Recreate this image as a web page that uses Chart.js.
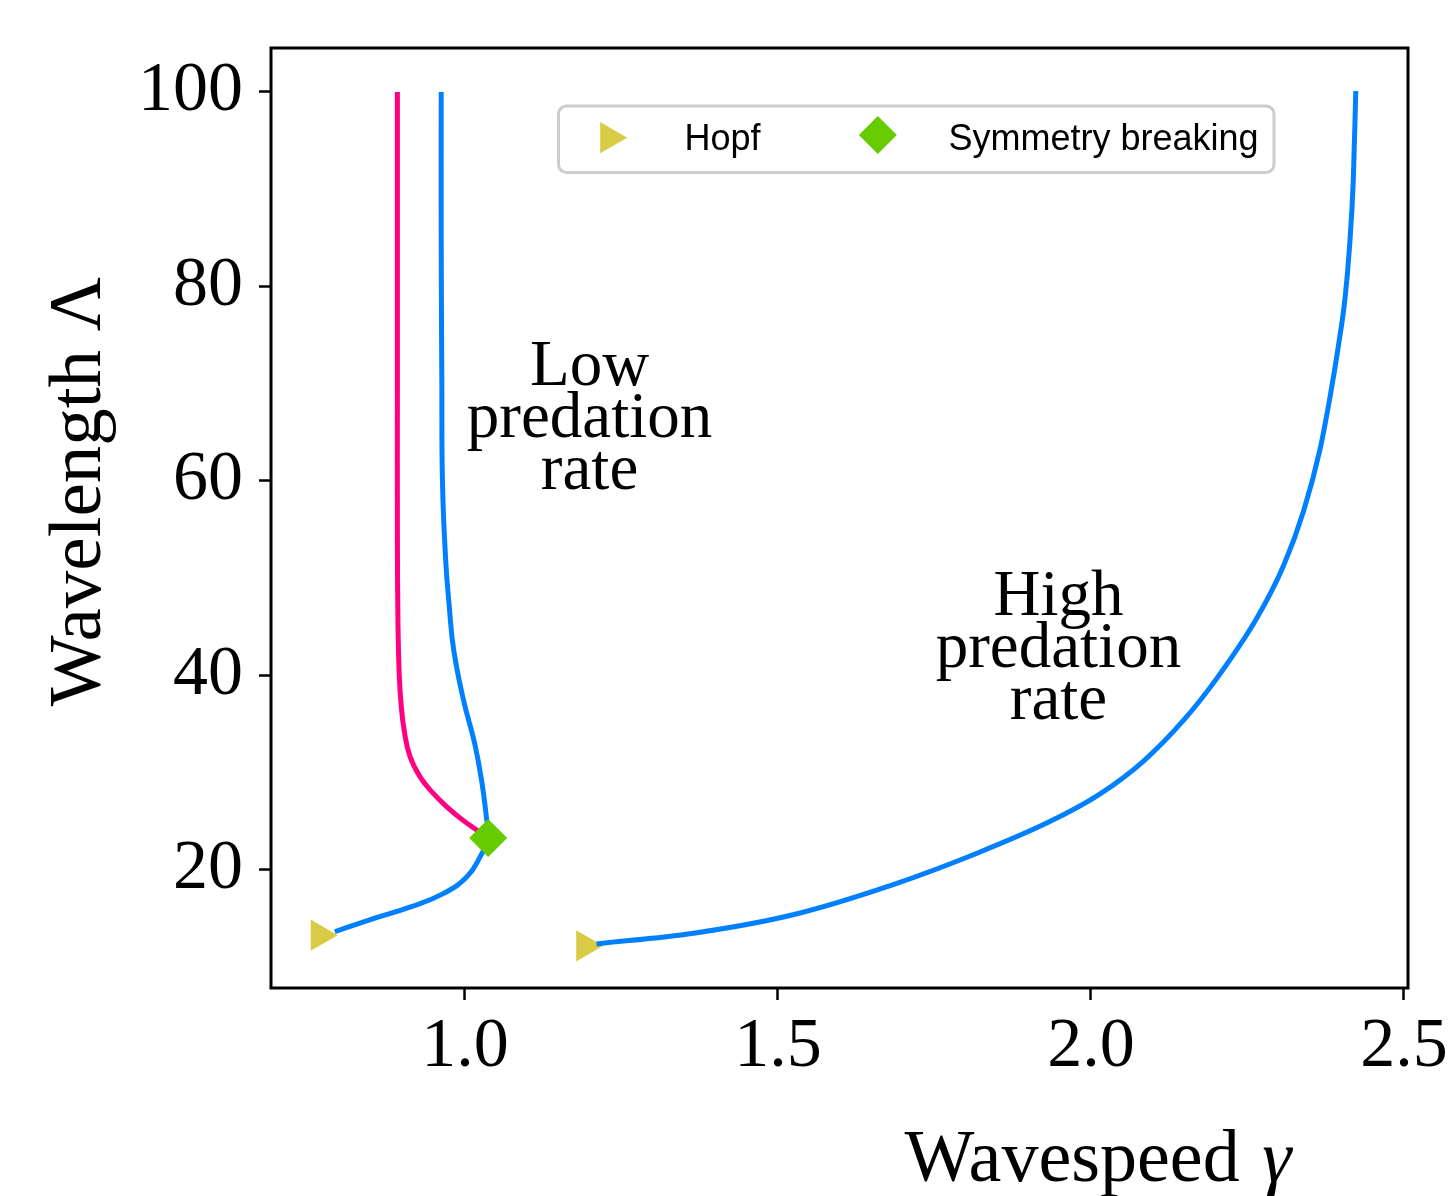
<!DOCTYPE html>
<html lang="en">
<head>
<meta charset="UTF-8">
<title>Wavelength vs wavespeed</title>
<script src="https://cdn.jsdelivr.net/npm/chart.js"></script>
<style>
  html, body { margin: 0; padding: 0; background: #fff; }
  #wrap { width: 1455px; height: 1196px; }
</style>
</head>
<body>
<div id="wrap"><canvas id="grafico" width="1455" height="1196"></canvas></div>
<script>
// symmetric branch that leaves the low-predation curve at the symmetry-breaking point
const pinkGamma  = [0.892, 0.892, 0.892, 0.892, 0.893, 0.895, 0.898, 0.903, 0.912, 0.928, 0.949, 0.971, 0.997, 1.019, 1.037];
const pinkLambda = [100, 85, 70, 55, 45, 40, 37, 34.3, 31.7, 29.6, 27.9, 26.5, 25.1, 24.1, 23.3];

// low predation rate branch (top down to the Hopf point)
const lowGamma  = [0.962, 0.962, 0.963, 0.964, 0.969, 0.975, 0.982, 0.9975, 1.0155, 1.027, 1.034, 1.037,
                   1.024, 1.003, 0.966, 0.913, 0.849, 0.792];
const lowLambda = [100, 85, 70, 60, 52, 47, 42.6, 37.5, 33.0, 29.0, 25.5, 23.3,
                   21.35, 19.3, 17.6, 16.2, 14.9, 13.65];

// high predation rate branch (Hopf point up to the top)
const highGamma  = [1.210, 1.365, 1.524, 1.684, 1.817, 1.935, 2.014, 2.084, 2.148, 2.201, 2.265, 2.307, 2.340, 2.366, 2.382, 2.395, 2.406, 2.413, 2.419, 2.423];
const highLambda = [12.4, 13.5, 15.4, 18.5, 21.7, 25.0, 27.8, 31.2, 35.4, 39.7, 45.9, 51.2, 57.0, 63.3, 68.7, 73.8, 78.9, 84.1, 90.9, 100.1];

// bifurcation points
const hopfGamma  = [0.768, 1.192];
const hopfLambda = [13.3, 12.2];
const symGamma  = [1.037];
const symLambda = [23.3];

const xTicks = [1.0, 1.5, 2.0, 2.5];
const yTicks = [20, 40, 60, 80, 100];

const lowText  = ['Low', 'predation', 'rate'];
const highText = ['High', 'predation', 'rate'];
const legendOrder = ['Hopf', 'Symmetry breaking'];

const BLUE = '#0080ff';
const PINK = '#ff0080';
const YELLOW = '#dacb47';
const GREEN = '#66cc00';

function pts(xs, ys) {
    return xs.map((v, i) => ({ x: v, y: ys[i] }));
}

// text labels sit at data coordinates (first line baseline)
const notes = [
    { gamma: 1.199, lambda: 69.87, lines: lowText },
    { gamma: 1.948, lambda: 46.22, lines: highText }
];

function marker(ctx, ds, x, y) {
    ctx.fillStyle = ds.backgroundColor;
    if (Chart.helpers && Chart.helpers.drawPoint) {
        Chart.helpers.drawPoint(ctx, {
            pointStyle: ds.pointStyle, rotation: ds.rotation || 0,
            radius: ds.pointRadius, borderWidth: 0
        }, x, y);
    }
}

const decor = {
    id: 'decor',
    afterDraw(chart) {
        const { ctx, chartArea: a, scales } = chart;
        ctx.save();

        // box round the plot
        ctx.strokeStyle = '#000';
        ctx.lineWidth = 3;
        ctx.strokeRect(a.left, a.top, a.right - a.left, a.bottom - a.top);

        // region labels
        ctx.fillStyle = '#000';
        ctx.font = '65px "Liberation Serif"';
        ctx.textAlign = 'center';
        ctx.textBaseline = 'alphabetic';
        notes.forEach(n => {
            const px = scales.x.getPixelForValue(n.gamma);
            const py = scales.y.getPixelForValue(n.lambda);
            n.lines.forEach((t, i) => ctx.fillText(t, px, py + i * 52));
        });

        // y title
        ctx.save();
        ctx.translate(100, 491.5);
        ctx.rotate(-Math.PI / 2);
        ctx.font = '75px "Liberation Serif"';
        ctx.textAlign = 'center';
        ctx.fillText('Wavelength \u039B', 0, 0);
        ctx.restore();

        // x title, gamma in italics
        ctx.font = '74px "Liberation Serif"';
        const w1 = ctx.measureText('Wavespeed ').width;
        ctx.font = 'italic 74px "Liberation Serif"';
        const w2 = ctx.measureText('\u03B3').width;
        const x0 = 1098 - (w1 + w2 + 4) / 2;
        ctx.textAlign = 'left';
        ctx.font = '74px "Liberation Serif"';
        ctx.fillText('Wavespeed ', x0, 1181);
        ctx.font = 'italic 74px "Liberation Serif"';
        ctx.fillText('\u03B3', x0 + w1 + 4, 1181);

        // legend
        const bx = 558.5, by = 106, bw = 715.5, bh = 66.5, r = 8;
        ctx.beginPath();
        ctx.moveTo(bx + r, by);
        ctx.arcTo(bx + bw, by, bx + bw, by + bh, r);
        ctx.arcTo(bx + bw, by + bh, bx, by + bh, r);
        ctx.arcTo(bx, by + bh, bx, by, r);
        ctx.arcTo(bx, by, bx + bw, by, r);
        ctx.closePath();
        ctx.fillStyle = 'rgba(255,255,255,0.8)';
        ctx.fill();
        ctx.strokeStyle = '#cccccc';
        ctx.lineWidth = 3;
        ctx.stroke();

        const slots = [
            { mx: 609.2, my: 137.7, tx: 684.5 },
            { mx: 877.8, my: 135, tx: 948.5 }
        ];
        const items = legendOrder.map(l => chart.data.datasets.find(d => d.label === l));
        ctx.font = '36px "Liberation Sans"';
        items.forEach((ds, i) => {
            const s = slots[i];
            marker(ctx, ds, s.mx, s.my);
            ctx.fillStyle = '#000';
            ctx.textAlign = 'left';
            ctx.fillText(ds.label, s.tx, 150);
        });

        ctx.restore();
    }
};

new Chart(document.getElementById('grafico'), {
    type: 'scatter',
    data: {
        datasets: [
            {
                label: 'Symmetry breaking',
                data: pts(symGamma, symLambda),
                showLine: false, pointStyle: 'rectRot', pointRadius: 19,
                backgroundColor: GREEN, borderColor: GREEN, pointBorderWidth: 0,
                order: 0
            },
            {
                label: 'pink', data: pts(pinkGamma, pinkLambda),
                showLine: true, borderColor: PINK, borderWidth: 5,
                pointRadius: 0, tension: 0.45, order: 1
            },
            {
                label: 'low', data: pts(lowGamma, lowLambda),
                showLine: true, borderColor: BLUE, borderWidth: 5,
                pointRadius: 0, tension: 0.45, order: 1
            },
            {
                label: 'high', data: pts(highGamma, highLambda),
                showLine: true, borderColor: BLUE, borderWidth: 5,
                pointRadius: 0, cubicInterpolationMode: 'monotone', order: 1
            },
            {
                label: 'Hopf',
                data: pts(hopfGamma, hopfLambda),
                showLine: false, pointStyle: 'triangle', rotation: 90, pointRadius: 18,
                backgroundColor: YELLOW, borderColor: YELLOW, pointBorderWidth: 0,
                order: 2
            }
        ]
    },
    options: {
        responsive: false,
        animation: false,
        devicePixelRatio: 1,
        layout: { padding: { top: 48, right: 47, left: 0, bottom: 0 } },
        plugins: { legend: { display: false }, tooltip: { enabled: false } },
        scales: {
            x: {
                type: 'linear', min: 0.6901, max: 2.5064,
                afterBuildTicks: s => { s.ticks = xTicks.map(v => ({ value: v })); },
                afterFit: s => { s.height = 208; },
                grid: { drawOnChartArea: false, tickLength: 12, tickWidth: 2.5, tickColor: '#000' },
                border: { display: false },
                ticks: {
                    padding: 6, color: '#000', maxRotation: 0, autoSkip: false,
                    font: { family: 'Liberation Serif', size: 70 },
                    callback: v => Number(v).toFixed(1)
                }
            },
            y: {
                type: 'linear', min: 7.866, max: 104.52,
                afterBuildTicks: s => { s.ticks = yTicks.map(v => ({ value: v })); },
                afterFit: s => { s.width = 271; },
                grid: { drawOnChartArea: false, tickLength: 12, tickWidth: 2.5, tickColor: '#000' },
                border: { display: false },
                ticks: {
                    padding: 16, color: '#000', autoSkip: false,
                    font: { family: 'Liberation Serif', size: 70, lineHeight: 0.85 },
                    callback: v => String(v)
                }
            }
        }
    },
    plugins: [decor]
});
</script>
</body>
</html>
